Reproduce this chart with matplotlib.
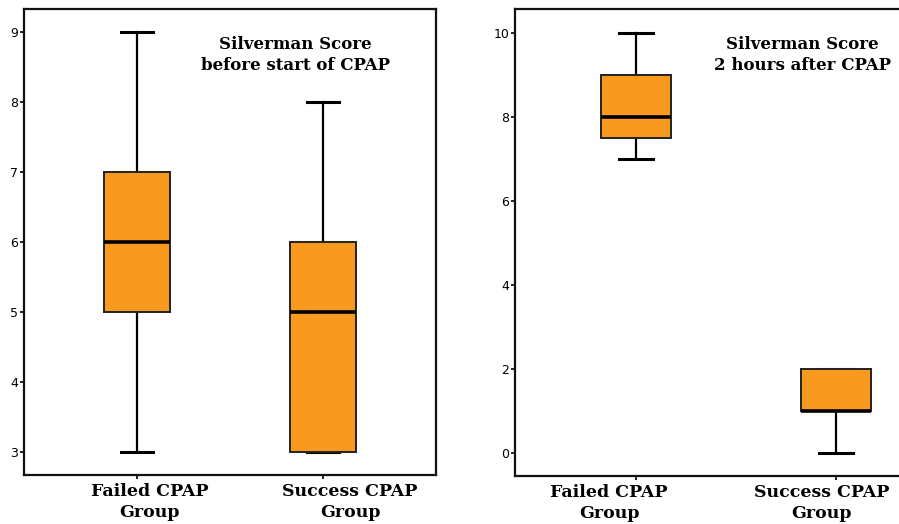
import matplotlib.pyplot as plt

# Silverman score box stats
groups = ["Failed CPAP\nGroup", "Success CPAP\nGroup"]

before_whislo = [3, 3]
before_q1 = [5, 3]
before_med = [6, 5]
before_q3 = [7, 6]
before_whishi = [9, 8]

after_whislo = [7, 0]
after_q1 = [7.5, 1]
after_med = [8, 1]
after_q3 = [9, 2]
after_whishi = [10, 2]

# group labels are not centred on the ticks in the original figure
before_label_x = [1.07, 2.145]
after_label_x = [0.865, 1.93]

BOX_COLOR = "#F99A1F"


def make_stats(lo, q1, med, q3, hi):
    return [
        {"whislo": a, "q1": b, "med": c, "q3": d, "whishi": e, "fliers": []}
        for a, b, c, d, e in zip(lo, q1, med, q3, hi)
    ]


def draw_panel(ax, stats, title, title_x, label_x, ylim, yticks):
    ax.bxp(
        stats,
        positions=[1, 2],
        widths=0.35,
        patch_artist=True,
        showfliers=False,
        boxprops=dict(facecolor=BOX_COLOR, edgecolor="#222222", linewidth=1.4, zorder=3),
        medianprops=dict(color="black", linewidth=2.6, zorder=4),
        whiskerprops=dict(color="black", linewidth=1.6),
        capprops=dict(color="black", linewidth=2.2, zorder=2),
        capwidths=0.17,
    )
    ax.set_xlim(0.393, 2.607)
    ax.set_ylim(*ylim)
    ax.set_yticks(yticks)
    ax.set_xticks([1, 2])
    ax.set_xticklabels(["", ""])
    ax.tick_params(axis="y", length=3, width=1.2, labelsize=9, pad=1)
    ax.tick_params(axis="x", length=3, width=1.2)
    for lab in ax.get_yticklabels():
        lab.set_family(["Liberation Sans Narrow", "DejaVu Sans"])
    for sp in ax.spines.values():
        sp.set_linewidth(1.6)
        sp.set_color("#111111")
    for x, name in zip(label_x, groups):
        ax.annotate(name, xy=(x, 0), xycoords=ax.get_xaxis_transform(),
                    xytext=(0, -6), textcoords="offset points",
                    ha="center", va="top", family="DejaVu Serif",
                    fontweight="bold", fontsize=12.5, linespacing=1.3,
                    annotation_clip=False)
    ax.text(title_x, 0.942, title, transform=ax.transAxes, ha="center", va="top",
            family="DejaVu Serif", fontweight="bold", fontsize=12, linespacing=1.3)


fig = plt.figure(figsize=(8.99, 5.24), dpi=100)
W, H = 899, 524

ax1 = fig.add_axes([24 / W, 1 - 475 / H, 412 / W, 466 / H])
draw_panel(ax1, make_stats(before_whislo, before_q1, before_med, before_q3, before_whishi),
           "Silverman Score\nbefore start of CPAP", 0.658, before_label_x,
           (2.67, 9.33), range(3, 10))

ax2 = fig.add_axes([515 / W, 1 - 476 / H, 442 / W, 467 / H])
draw_panel(ax2, make_stats(after_whislo, after_q1, after_med, after_q3, after_whishi),
           "Silverman Score\n2 hours after CPAP", 0.65, after_label_x,
           (-0.55, 10.57), range(0, 11, 2))

fig.savefig("out.png", dpi=100)
